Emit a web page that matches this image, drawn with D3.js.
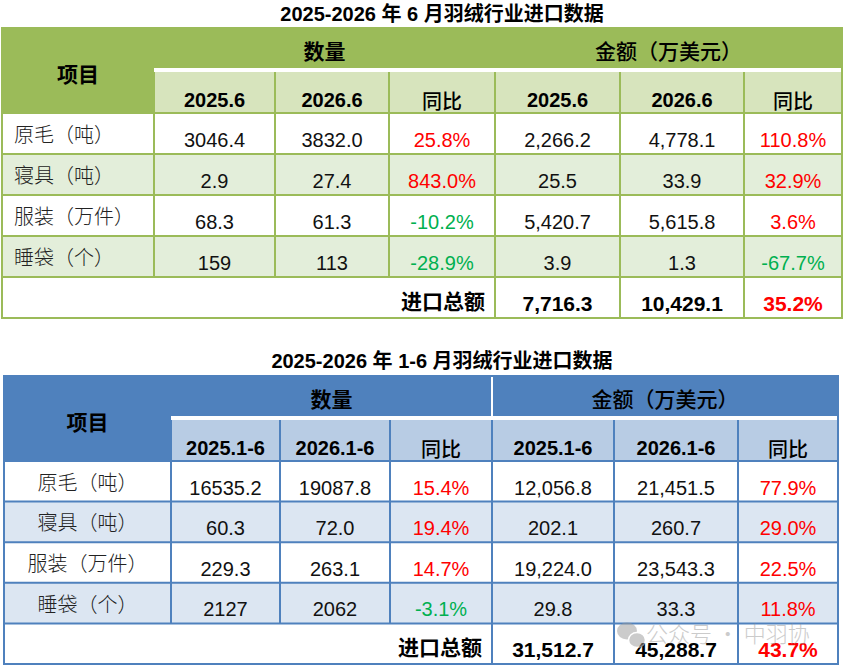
<!DOCTYPE html>
<html>
<head>
<meta charset="utf-8">
<script src="https://cdn.jsdelivr.net/npm/d3@7/dist/d3.min.js"></script>
<style>
body{margin:0;background:#fff;}
svg{display:block;}
text{font-family:"Liberation Sans",Arial,"Noto Sans CJK SC",sans-serif;}
</style>
</head>
<body>
<script>
// ---------- DATA ----------
const items = ["原毛（吨）","寝具（吨）","服装（万件）","睡袋（个）"];

// Table 1: June
const title1 = "2025-2026 年 6 月羽绒行业进口数据";
const subHeads1 = ["2025.6","2026.6","同比","2025.6","2026.6","同比"];
const qtyPrev1 = [3046.4, 2.9, 68.3, 159];
const qtyCur1  = [3832.0, 27.4, 61.3, 113];
const qtyYoy1  = [25.8, 843.0, -10.2, -28.9];
const amtPrev1 = [2266.2, 25.5, 5420.7, 3.9];
const amtCur1  = [4778.1, 33.9, 5615.8, 1.3];
const amtYoy1  = [110.8, 32.9, 3.6, -67.7];
const total1   = [7716.3, 10429.1, 35.2];

// Table 2: Jan-Jun
const title2 = "2025-2026 年 1-6 月羽绒行业进口数据";
const subHeads2 = ["2025.1-6","2026.1-6","同比","2025.1-6","2026.1-6","同比"];
const qtyPrev2 = [16535.2, 60.3, 229.3, 2127];
const qtyCur2  = [19087.8, 72.0, 263.1, 2062];
const qtyYoy2  = [15.4, 19.4, 14.7, -3.1];
const amtPrev2 = [12056.8, 202.1, 19224.0, 29.8];
const amtCur2  = [21451.5, 260.7, 23543.3, 33.3];
const amtYoy2  = [77.9, 29.0, 22.5, 11.8];
const total2   = [31512.7, 45288.7, 43.7];

const groupHeads = ["项目","数量","金额（万美元）"];
const totalLabel = "进口总额";
const watermark = "公众号 · 中羽协";

// ---------- FORMATS ----------
const loc = d3.formatLocale({decimal:".", thousands:",", grouping:[3], currency:["",""], minus:"-"});
const fQty = (v,i) => (i===3 ? loc.format("d")(v) : loc.format(".1f")(v));
const fAmt = loc.format(",.1f");
const fPct = v => loc.format(".1f")(v) + "%";

const W = 844, H = 668;
const svg = d3.select("body").append("svg").attr("width", W).attr("height", H);

const CN = '"Noto Sans CJK SC","Liberation Sans",sans-serif';

function drawTable(cfg){
  const g = svg.append("g");
  const cols = d3.range(7);
  const xL = d3.scaleOrdinal().domain(cols).range(cfg.colEdges.slice(0,7));
  const xR = d3.scaleOrdinal().domain(cols).range(cfg.colEdges.slice(1,8));
  const xC = c => (xL(c)+xR(c))/2;
  const left = cfg.colEdges[0], right = cfg.colEdges[7];
  const [hTop, hMid, subTop, dataTop, bottom] = cfg.rowEdges;
  const rowKeys = items.concat(["__total"]);
  const y = d3.scaleBand().domain(rowKeys).range([dataTop, bottom]);

  // title
  g.append("text").attr("x", cfg.titleX).attr("y", cfg.titleY)
    .attr("text-anchor","middle").attr("font-size",20).attr("font-weight","bold")
    .attr("fill","#000").text(cfg.title);

  // header backgrounds
  g.append("rect").attr("x",left).attr("y",hTop).attr("width",right-left).attr("height",dataTop-hTop).attr("fill",cfg.head);
  g.append("rect").attr("x",xR(0)).attr("y",hMid).attr("width",right-xR(0)).attr("height",subTop-hMid).attr("fill","#fff");
  g.selectAll(".sub").data(d3.range(1,7)).join("rect")
    .attr("x",c=>xL(c)).attr("y",subTop).attr("width",c=>xR(c)-xL(c)).attr("height",dataTop-subTop)
    .attr("fill",cfg.sub);

  // data row backgrounds
  g.selectAll(".row").data(rowKeys).join("rect")
    .attr("x",left).attr("y",d=>y(d)).attr("width",right-left).attr("height",y.bandwidth())
    .attr("fill",(d,i)=> i%2===1 ? cfg.alt : "#fff");

  const lc = cfg.line;
  g.selectAll(".hl").data(rowKeys).join("line")
    .attr("x1",left).attr("x2",right).attr("y1",d=>y(d)).attr("y2",d=>y(d))
    .attr("stroke",lc).attr("stroke-width",2);
  g.selectAll(".vl").data(d3.range(1,7)).join("line")
    .attr("x1",c=>xL(c)).attr("x2",c=>xL(c))
    .attr("y1",subTop).attr("y2",c=> c>=4 ? bottom : y("__total"))
    .attr("stroke",lc).attr("stroke-width",2);
  if(cfg.groupDivider){
    g.append("line").attr("x1",xL(4)).attr("x2",xL(4)).attr("y1",hTop).attr("y2",hMid)
      .attr("stroke","#fff").attr("stroke-width",2);
  }
  g.append("rect").attr("x",left).attr("y",hTop).attr("width",right-left).attr("height",bottom-hTop)
    .attr("fill","none").attr("stroke",lc).attr("stroke-width",2);

  // group headers
  g.append("text").attr("x",xC(0)).attr("y",(hTop+dataTop)/2+2).attr("dominant-baseline","central")
    .attr("text-anchor","middle").attr("font-size",21).attr("font-weight","bold").style("font-family",CN)
    .text(groupHeads[0]);
  g.append("text").attr("x",(xL(1)+xR(3))/2).attr("y",(hTop+hMid)/2+2).attr("dominant-baseline","central")
    .attr("text-anchor","middle").attr("font-size",21).attr("font-weight","bold").style("font-family",CN)
    .text(groupHeads[1]);
  g.append("text").attr("x",(xL(4)+xR(6))/2).attr("y",(hTop+hMid)/2+2).attr("dominant-baseline","central")
    .attr("text-anchor","middle").attr("font-size",21).attr("font-weight","500").style("font-family",CN)
    .text(groupHeads[2]);

  // sub headers
  g.selectAll(".sh").data(cfg.subHeads).join("text")
    .attr("x",(d,i)=>xC(i+1)).attr("y",dataTop-6)
    .attr("text-anchor","middle").attr("font-size",20).attr("font-weight",d=>d==="同比"?"500":"bold")
    .style("font-family",d=>d==="同比"?CN:null)
    .attr("dy",d=>d==="同比"?2:0)
    .text(d=>d);

  // row labels
  g.selectAll(".lab").data(items).join("text")
    .attr("x",cfg.labelCenter ? xC(0) : left+12)
    .attr("text-anchor",cfg.labelCenter ? "middle":"start")
    .attr("y",d=>y(d)+y.bandwidth()/2).attr("dominant-baseline","central")
    .attr("font-size",20).attr("font-weight","300").style("font-family",CN)
    .attr("fill","#222").text(d=>d);

  const pctColor = v => v < 0 ? "#00B050" : "#FF0000";
  const cellsData = [];
  items.forEach((it,i)=>{
    cellsData.push({r:it,c:1,t:fQty(cfg.qtyPrev[i],i),col:"#111"});
    cellsData.push({r:it,c:2,t:fQty(cfg.qtyCur[i],i),col:"#111"});
    cellsData.push({r:it,c:3,t:fPct(cfg.qtyYoy[i]),col:pctColor(cfg.qtyYoy[i])});
    cellsData.push({r:it,c:4,t:fAmt(cfg.amtPrev[i]),col:"#111"});
    cellsData.push({r:it,c:5,t:fAmt(cfg.amtCur[i]),col:"#111"});
    cellsData.push({r:it,c:6,t:fPct(cfg.amtYoy[i]),col:pctColor(cfg.amtYoy[i])});
  });
  g.selectAll(".cell").data(cellsData).join("text")
    .attr("x",d=>xC(d.c)).attr("y",d=>y(d.r)+y.bandwidth()-7)
    .attr("text-anchor","middle").attr("font-size",20).attr("fill",d=>d.col).text(d=>d.t);

  // total row
  g.append("text").attr("x",xL(4)-10).attr("y",y("__total")+y.bandwidth()/2+2).attr("dominant-baseline","central")
    .attr("text-anchor","end").attr("font-size",21).attr("font-weight","bold").style("font-family",CN)
    .text(totalLabel);
  const tot = [
    {c:4,t:fAmt(cfg.total[0]),col:"#000"},
    {c:5,t:fAmt(cfg.total[1]),col:"#000"},
    {c:6,t:fPct(cfg.total[2]),col:pctColor(cfg.total[2])}
  ];
  g.selectAll(".tot").data(tot).join("text")
    .attr("x",d=>xC(d.c)).attr("y",y("__total")+y.bandwidth()-7)
    .attr("text-anchor","middle").attr("font-size",21).attr("font-weight","bold")
    .attr("fill",d=>d.col).text(d=>d.t);
  return g;
}

drawTable({
  title:title1, titleX:442, titleY:21,
  colEdges:[2,154,275,389,495,620,744,842],
  rowEdges:[28,68,72,113,318],
  head:"#9BBB59", sub:"#D7E4BD", alt:"#E3EEDA", line:"#9BBB59",
  subHeads:subHeads1, qtyPrev:qtyPrev1, qtyCur:qtyCur1, qtyYoy:qtyYoy1,
  amtPrev:amtPrev1, amtCur:amtCur1, amtYoy:amtYoy1, total:total1,
  labelCenter:false, groupDivider:false
});

drawTable({
  title:title2, titleX:442, titleY:368,
  colEdges:[4,171,280,390,492,614,738,838],
  rowEdges:[376,416,420,461,664],
  head:"#4F81BD", sub:"#B8CCE4", alt:"#DCE6F2", line:"#4F81BD",
  subHeads:subHeads2, qtyPrev:qtyPrev2, qtyCur:qtyCur2, qtyYoy:qtyYoy2,
  amtPrev:amtPrev2, amtCur:amtCur2, amtYoy:amtYoy2, total:total2,
  labelCenter:true, groupDivider:true
});

// watermark
const wm = svg.append("g").attr("opacity",0.5);
wm.append("ellipse").attr("cx",627).attr("cy",631).attr("rx",10).attr("ry",8.5).attr("fill","#999");
wm.append("ellipse").attr("cx",637).attr("cy",640).attr("rx",8.5).attr("ry",7.5).attr("fill","#999").attr("stroke","#fff").attr("stroke-width",1.5);
wm.append("text").attr("x",646).attr("y",642).attr("font-size",22).attr("fill","#999")
  .style("font-family",CN).attr("font-weight","300").text(watermark);
</script>
</body>
</html>
